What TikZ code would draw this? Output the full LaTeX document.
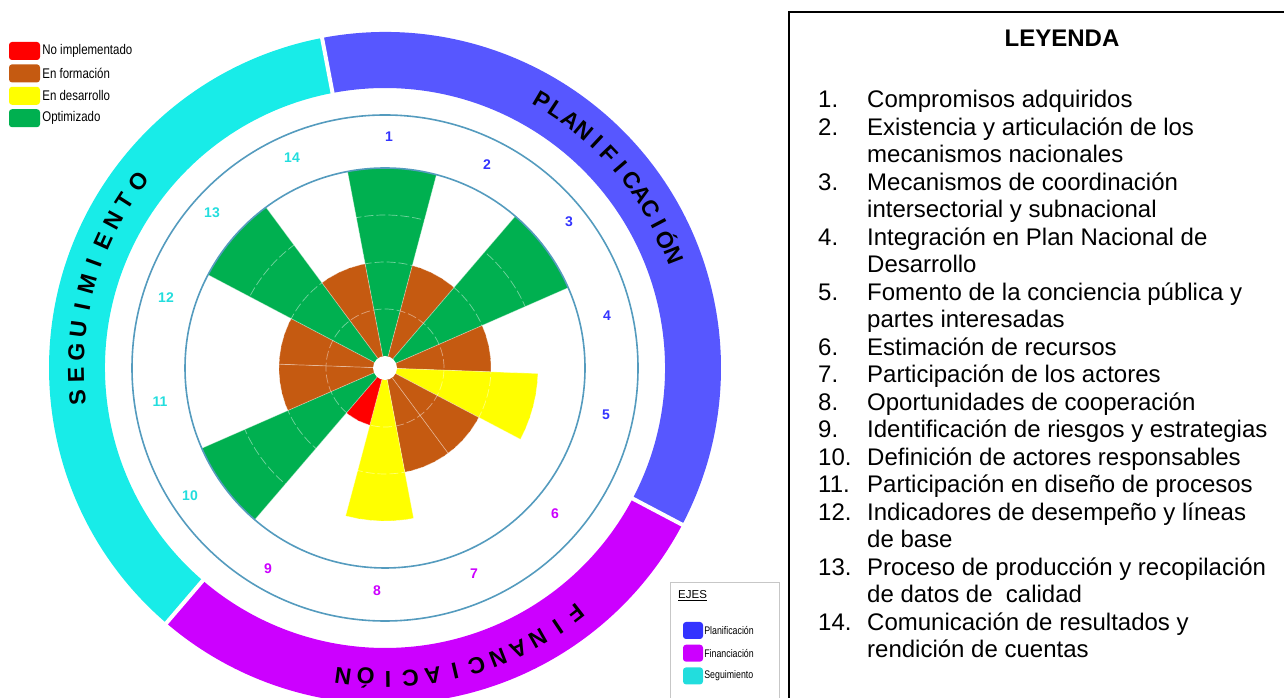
\documentclass[tikz,border=0pt]{standalone}
\usepackage{fontspec}
\setmainfont{Liberation Sans}
\usepackage{tikz}
\usetikzlibrary{positioning}
\usepackage{xcolor}

\definecolor{optgreen}{RGB}{0,176,80}
\definecolor{formbrown}{RGB}{197,90,17}
\definecolor{desyellow}{RGB}{255,255,0}
\definecolor{noimpred}{RGB}{255,0,0}
\definecolor{gridblue}{RGB}{84,155,190}
\definecolor{planblue}{RGB}{87,87,255}
\definecolor{finmag}{RGB}{204,0,255}
\definecolor{segcyan}{RGB}{24,236,232}
\definecolor{planlbl}{RGB}{51,51,255}
\definecolor{seglbl}{RGB}{34,221,221}

\begin{document}
\begin{tikzpicture}[x=1pt,y=1pt,
		ringtxt/.style={font=\fontsize{23}{23}\selectfont\bfseries, inner sep=0pt},
		numlbl/.style={font=\fontsize{14}{14}\selectfont\bfseries, inner sep=0pt},
		swatch/.style={rounded corners=3pt, minimum width=31pt, minimum height=18pt, inner sep=0pt},
		gridline/.style={white, line width=0.7pt, opacity=0.45},
		itemtxt/.style={font=\fontsize{24}{27.5}\selectfont, anchor=base west, inner sep=0pt, align=left}]
		\useasboundingbox (0,0) rectangle (1284,698);
		\clip (0,0) rectangle (1284,698);

		\begin{scope}[shift={(385,330)}]
		% outer ring
		\fill[segcyan] (100.8:280) arc[start angle=100.8, end angle=229.4, radius=280] -- (229.4:336) arc[start angle=229.4, end angle=100.8, radius=336] -- cycle;
		\fill[planblue] (-27.8:280) arc[start angle=-27.8, end angle=100.8, radius=280] -- (100.8:336) arc[start angle=100.8, end angle=-27.8, radius=336] -- cycle;
		\fill[finmag] (-130.6:280) arc[start angle=-130.6, end angle=-27.8, radius=280] -- (-27.8:336) arc[start angle=-27.8, end angle=-130.6, radius=336] -- cycle;
		\foreach \g in {100.8,-27.8,-130.6}
			\draw[white, line width=4pt] (\g:275) -- (\g:341);

		% wedges
		\foreach \lev/\col [count=\i] in {4/optgreen,2/formbrown,4/optgreen,2/formbrown,3/desyellow,2/formbrown,2/formbrown,3/desyellow,1/noimpred,4/optgreen,2/formbrown,2/formbrown,4/optgreen,2/formbrown}
		{
			\pgfmathsetmacro\a{100.8-\i*360/14}
			\pgfmathsetmacro\b{\a+360/14}
			\pgfmathsetmacro\r{12+47*\lev}
			\fill[\col] (0,0) -- (\a:\r) arc[start angle=\a, end angle=\b, radius=\r] -- cycle;
		}
		\foreach \k in {1,2,3}
			\draw[gridline, dashed, dash pattern=on 9pt off 3pt] (0,0) circle[radius={12+47*\k}];
		\foreach \i in {0,...,13}
		{
			\pgfmathsetmacro\a{100.8-\i*360/14}
			\draw[gridline] (\a:12) -- (\a:200);
		}
		\draw[gridblue, line width=1.6pt] (0,0) circle[radius=200];
		\draw[gridblue, line width=1.6pt] (0,0) circle[radius=253];
		\fill[white] (0,0) circle[radius=12];

		% ring titles
		\foreach \ch [count=\k] in {P,L,A,N,I,F,I,C,A,C,I,Ó,N}
		{
			\pgfmathsetmacro\ang{59.6-(\k-1)*3.19}
			\node[ringtxt, rotate=\ang-90] (plan\k) at (\ang:310) {\ch};
		}
		\foreach \ch [count=\k] in {F,I,N,A,N,C,I,A,C,I,Ó,N}
		{
			\pgfmathsetmacro\ang{-52.1-(\k-1)*4.15}
			\node[ringtxt, rotate=\ang-90] (fin\k) at (\ang:311) {\ch};
		}
		\foreach \ch [count=\k] in {S,E,G,U,I,M,I,E,N,T,O}
		{
			\pgfmathsetmacro\ang{185.5-(\k-1)*4.25}
			\node[ringtxt, rotate=\ang-90] (seg\k) at (\ang:309) {\ch};
		}
		\end{scope}

		% sector numbers
		\foreach \n/\x/\y/\c in {1/389/561/planlbl, 2/487/533/planlbl, 3/569/476/planlbl, 4/607/382/planlbl, 5/606/283/planlbl, 6/555/184/finmag, 7/474/124/finmag, 8/377/107/finmag, 9/268/129/finmag, 10/190/202/seglbl, 11/160/296/seglbl, 12/166/400/seglbl, 13/212/485/seglbl, 14/292/540/seglbl}
			\node[numlbl, text=\c] (sec\n) at (\x,\y) {\n};

		% level legend
		\foreach \col/\txt [count=\i] in {noimpred/No implementado, formbrown/En formación, desyellow/En desarrollo, optgreen/Optimizado}
		{
			\node[swatch, fill=\col] (lv\i) at (24.5,{647-(\i-1)*22.4}) {};
			\node[right=2pt of lv\i, inner sep=0pt, xscale=0.82, font=\fontsize{14}{14}\selectfont] (lvt\i) {\txt};
		}

		% axes legend
		\draw[black!22, line width=0.8pt] (670,-10) rectangle (779,116);
		\node[anchor=west, inner sep=0pt, font=\fontsize{11.5}{12}\selectfont] (ejes) at (678,102) {\underline{EJES}};
		\foreach \col/\txt [count=\i] in {planlbl/Planificación, finmag/Financiación, seglbl/Seguimiento}
		{
			\node[swatch, minimum width=20pt, minimum height=17pt, fill=\col] (ax\i) at (693,{67.5-(\i-1)*22.7}) {};
			\node[right=1pt of ax\i, inner sep=0pt, xscale=0.8, font=\fontsize{11}{11}\selectfont] (axt\i) {\txt};
		}

		% LEYENDA
		\draw[line width=2.2pt] (789,-10) rectangle (1300,686);
		\node[font=\fontsize{24}{24}\selectfont\bfseries] (leyenda) at (1062,660) {LEYENDA};
		\foreach \n/\l/\e/\t in {1/1/1/{Compromisos adquiridos}, 2/2/3/{Existencia y articulación de los\\mecanismos nacionales}, 3/4/5/{Mecanismos de coordinación\\intersectorial y subnacional}, 4/6/7/{Integración en Plan Nacional de\\Desarrollo}, 5/8/9/{Fomento de la conciencia pública y\\partes interesadas}, 6/10/10/{Estimación de recursos}, 7/11/11/{Participación de los actores}, 8/12/12/{Oportunidades de cooperación}, 9/13/13/{Identificación de riesgos y estrategias}, 10/14/14/{Definición de actores responsables}, 11/15/15/{Participación en diseño de procesos}, 12/16/17/{Indicadores de desempeño y líneas\\de base}, 13/18/19/{Proceso de producción y recopilación\\de datos de \ calidad}, 14/20/21/{Comunicación de resultados y\\rendición de cuentas}}
		{
			\node[itemtxt] (num\n) at (818,{590-(\l-1)*27.5}) {\n.};
			\node[itemtxt] (item\n) at (867,{590-(\e-1)*27.5}) {\t};
		}
\end{tikzpicture}
\end{document}
